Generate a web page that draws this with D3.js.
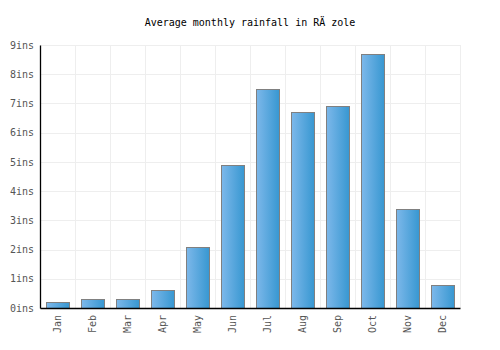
<!DOCTYPE html>
<html>
<head>
<meta charset="utf-8">
<script src="https://cdn.jsdelivr.net/npm/d3@7"></script>
<style>
  body { margin: 0; background: #fff; }
  svg text { font-family: "DejaVu Sans Mono", monospace; }
</style>
</head>
<body>
<svg id="chart" width="500" height="350"></svg>
<script>
// données
const months = ['Jan', 'Feb', 'Mar', 'Apr', 'May', 'Jun', 'Jul', 'Aug', 'Sep', 'Oct', 'Nov', 'Dec'];
const rainfall = [0.2, 0.3, 0.3, 0.6, 2.1, 4.9, 7.5, 6.7, 6.9, 8.7, 3.4, 0.8];
const yTicks = [0, 1, 2, 3, 4, 5, 6, 7, 8, 9];
const title = 'Average monthly rainfall in RÄ zole';

const svg = d3.select('#chart');
const margin = { top: 45, right: 40, bottom: 42, left: 40 };
const width = 500 - margin.left - margin.right;
const height = 350 - margin.top - margin.bottom;

// dégradé des barres
const grad = svg.append('defs').append('linearGradient')
    .attr('id', 'barGrad')
    .attr('x1', '0%').attr('x2', '100%').attr('y1', '0%').attr('y2', '0%');
grad.append('stop').attr('offset', '0%').attr('stop-color', '#7db8ea');
grad.append('stop').attr('offset', '100%').attr('stop-color', '#3797d1');

const g = svg.append('g').attr('transform', `translate(${margin.left},${margin.top})`);

const x = d3.scaleBand().domain(months).range([0, width]).paddingInner(0.33).paddingOuter(0.165);
const xGrid = d3.scaleBand().domain(months).range([0, width]);
const y = d3.scaleLinear().domain([0, 9]).range([height, 0]);

// grille horizontale
g.append('g')
 .selectAll('line')
 .data(yTicks)
 .join('line')
 .attr('x1', 0).attr('x2', width)
 .attr('y1', d => Math.round(y(d)) + 0.5).attr('y2', d => Math.round(y(d)) + 0.5)
 .attr('stroke', '#eeeeee');

// grille verticale
g.append('g')
 .selectAll('line')
 .data(months)
 .join('line')
 .attr('x1', d => Math.round(xGrid(d) + xGrid.bandwidth()) + 0.5)
 .attr('x2', d => Math.round(xGrid(d) + xGrid.bandwidth()) + 0.5)
 .attr('y1', 0).attr('y2', height)
 .attr('stroke', '#eeeeee');

// barres
g.append('g')
 .selectAll('rect')
 .data(rainfall)
 .join('rect')
 .attr('x', (d, i) => Math.round(x(months[i])) + 0.5)
 .attr('y', d => Math.round(y(d)) + 0.5)
 .attr('width', Math.round(x.bandwidth()))
 .attr('height', d => Math.round(y(0)) - Math.round(y(d)))
 .attr('fill', 'url(#barGrad)')
 .attr('stroke', '#808080')
 .attr('stroke-width', 1);

// axe Y
const yAxis = g.append('g')
 .call(d3.axisLeft(y).tickValues(yTicks).tickFormat(d => d + 'ins').tickSize(0).tickPadding(6));
yAxis.select('.domain').attr('stroke', '#000').attr('stroke-width', 1.3);
yAxis.selectAll('text').attr('fill', '#555').style('font-size', '10px');

// axe X
const xAxis = g.append('g')
 .attr('transform', `translate(0,${height})`)
 .call(d3.axisBottom(x).tickSize(0).tickPadding(0));
xAxis.select('.domain').attr('stroke', '#000').attr('stroke-width', 1.3);
xAxis.selectAll('text')
 .attr('fill', '#555')
 .style('font-size', '10px')
 .attr('transform', 'rotate(-90)')
 .attr('text-anchor', 'end')
 .attr('x', -7)
 .attr('y', 0)
 .attr('dy', '0.35em');

// titre
svg.append('text')
 .attr('x', 250)
 .attr('y', 26)
 .attr('text-anchor', 'middle')
 .style('font-size', '10px')
 .attr('fill', '#000')
 .text(title);
</script>
</body>
</html>
